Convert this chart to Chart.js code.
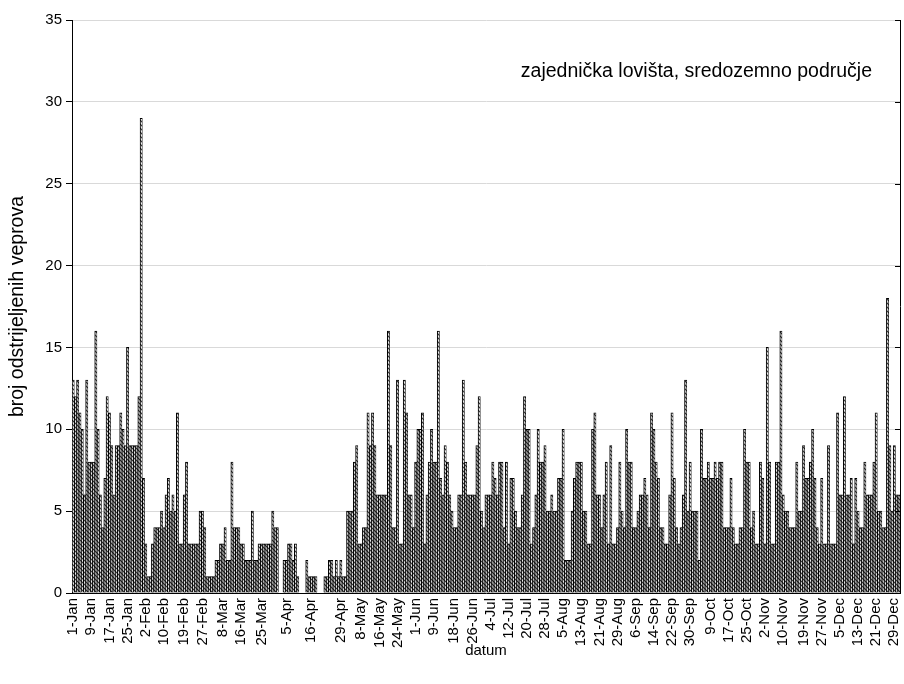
<!DOCTYPE html>
<html>
<head>
<meta charset="utf-8">
<script src="https://cdn.jsdelivr.net/npm/chart.js@4.4.1/dist/chart.umd.min.js"></script>
<style>
  html, body { margin: 0; background: #fff; }
</style>
</head>
<body>
<canvas id="chart" width="904" height="684"></canvas>
<script>
// daily counts, one small array per month (null = no hunt that day)
const jan = [13,12,13,11,10,6,13,8,8,8,16,10,6,4,7,12,11,9,6,9,9,11,10,9,15,9,9,9,9,12,29];
const feb = [7,3,1,1,3,4,4,4,5,4,6,7,5,6,5,11,3,3,6,8,3,3,3,3,3,5,5,4];
const mar = [1,1,1,1,2,2,3,3,4,2,2,8,4,4,4,3,3,2,2,2,5,2,2,3,3,3,3,3,3,5,4];
const apr = [4,null,null,2,2,3,3,2,3,1,null,null,null,2,1,1,1,1,null,null,null,1,1,2,2,1,2,1,2,1];
const may = [1,5,5,5,8,9,3,3,4,4,11,9,11,9,6,6,6,6,6,16,9,4,4,13,3,3,13,11,6,6,4];
const jun = [8,10,10,11,3,6,8,10,8,8,16,7,6,9,8,6,5,4,4,6,6,13,8,6,6,6,6,9,12,5];
const jul = [4,6,6,6,8,7,6,8,8,4,8,3,7,7,5,4,4,6,12,10,10,3,4,6,10,8,8,9,5,5,6];
const aug = [5,5,7,7,10,2,2,2,5,7,8,8,8,5,5,3,3,10,11,6,6,4,6,8,3,9,3,3,4,8,5];
const sep = [4,10,8,8,4,4,5,6,6,7,6,4,11,10,8,7,4,4,3,3,6,11,7,4,3,4,6,13,5,8];
const oct = [5,5,5,2,10,7,7,8,7,7,8,7,8,8,4,4,4,7,4,3,3,4,4,10,8,8,4,5,3,3,8];
const nov = [7,3,15,8,3,3,8,8,16,6,5,5,4,4,4,8,5,5,9,7,7,8,10,7,4,3,7,3,3,9];
const dec = [3,3,3,11,6,6,12,6,6,7,3,7,5,4,4,8,6,6,6,8,11,5,5,4,4,18,9,5,9,6,6];

const monthNames = ['Jan','Feb','Mar','Apr','May','Jun','Jul','Aug','Sep','Oct','Nov','Dec'];
const monthData = [jan, feb, mar, apr, may, jun, jul, aug, sep, oct, nov, dec];

const tickLabels = ['1-Jan','9-Jan','17-Jan','25-Jan','2-Feb','10-Feb','19-Feb','27-Feb',
  '8-Mar','16-Mar','25-Mar','5-Apr','16-Apr','29-Apr','8-May','16-May','24-May','1-Jun',
  '9-Jun','18-Jun','26-Jun','4-Jul','12-Jul','20-Jul','28-Jul','5-Aug','13-Aug','21-Aug',
  '29-Aug','6-Sep','14-Sep','22-Sep','30-Sep','9-Oct','17-Oct','25-Oct','2-Nov','10-Nov',
  '19-Nov','27-Nov','5-Dec','13-Dec','21-Dec','29-Dec'];

const noteText = 'zajednička lovišta, sredozemno područje';

// one category per calendar day
const categories = [];
const values = [];
monthData.forEach((arr, m) => {
  arr.forEach((v, d) => {
    categories.push((d + 1) + '-' + monthNames[m]);
    values.push(v);
  });
});

// hatched fill like the original bars
function hatchPattern() {
  const c = document.createElement('canvas');
  c.width = 4; c.height = 4;
  const g = c.getContext('2d');
  g.fillStyle = '#ececec';
  g.fillRect(0, 0, 4, 4);
  g.strokeStyle = '#303030';
  g.lineWidth = 1.2;
  g.beginPath();
  g.moveTo(-1, -1); g.lineTo(5, 5);
  g.moveTo(-1, 3); g.lineTo(1, 5);
  g.moveTo(3, -1); g.lineTo(5, 1);
  g.stroke();
  return g.createPattern(c, 'repeat');
}

const font = 'Liberation Sans, Arial, sans-serif';

const framePlugin = {
  id: 'frame',
  afterDraw(chart) {
    const { ctx, chartArea: a, scales: { y } } = chart;
    ctx.save();
    ctx.strokeStyle = '#000';
    ctx.lineWidth = 1;
    ctx.beginPath();
    ctx.moveTo(a.right + 0.5, a.top);
    ctx.lineTo(a.right + 0.5, a.bottom);
    y.ticks.forEach(t => {
      const py = Math.round(y.getPixelForValue(t.value)) + 0.5;
      ctx.moveTo(a.right, py);
      ctx.lineTo(a.right - 5, py);
    });
    ctx.stroke();
    ctx.fillStyle = '#000';
    ctx.font = '19.5px ' + font;
    ctx.textAlign = 'right';
    ctx.textBaseline = 'middle';
    ctx.fillText(noteText, 872, 72);
    ctx.restore();
  }
};

new Chart(document.getElementById('chart'), {
  type: 'bar',
  data: {
    labels: categories,
    datasets: [{
      data: values,
      backgroundColor: hatchPattern(),
      borderColor: '#000',
      borderWidth: { top: 1, left: 1, right: 0.6, bottom: 0 },
      barPercentage: 1,
      categoryPercentage: 1
    }]
  },
  options: {
    responsive: false,
    animation: false,
    devicePixelRatio: 1,
    layout: { padding: { left: 0, right: 4, top: 20, bottom: 0 } },
    plugins: { legend: { display: false }, tooltip: { enabled: false } },
    scales: {
      x: {
        grid: { display: false, drawTicks: false },
        border: { color: '#000', width: 1 },
        ticks: {
          autoSkip: false,
          minRotation: 90,
          maxRotation: 90,
          padding: 5,
          color: '#000',
          font: { family: font, size: 15 },
          callback: function (v) {
            const l = this.getLabelForValue(v);
            return tickLabels.includes(l) ? l : '';
          }
        },
        title: { display: true, text: 'datum', color: '#000', font: { family: font, size: 15 }, padding: { top: 0, bottom: 24 } },
        afterFit: s => { s.height = 91; s.paddingLeft = 0; s.paddingRight = 0; }
      },
      y: {
        min: 0,
        max: 35,
        ticks: { stepSize: 5, padding: 4, color: '#000', font: { family: font, size: 15 } },
        grid: { color: '#d9d9d9', tickColor: '#000', tickLength: 6 },
        border: { color: '#000', width: 1 },
        title: { display: true, text: 'broj odstrijeljenih veprova', color: '#000', font: { family: font, size: 19.5 }, padding: { top: 6, bottom: 0 } },
        afterFit: s => { s.width = 72; }
      }
    }
  },
  plugins: [framePlugin]
});
</script>
</body>
</html>
